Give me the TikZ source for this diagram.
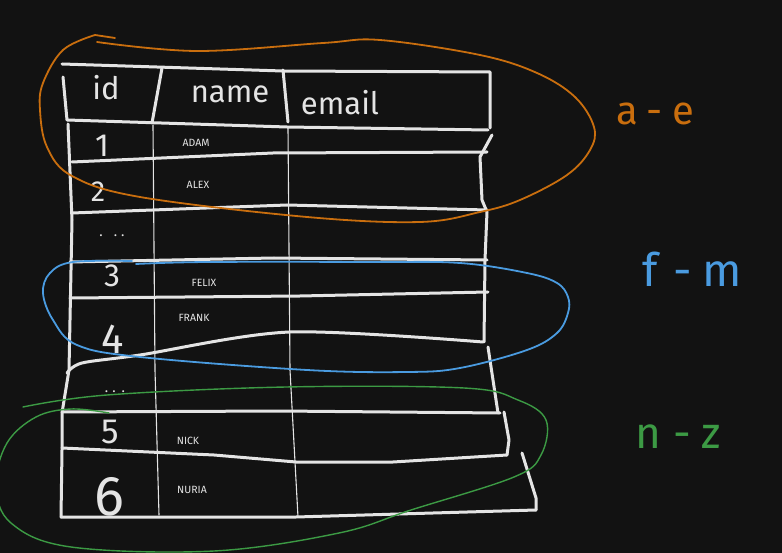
\documentclass[tikz,border=0pt]{standalone}
\usepackage{fontspec}
\setmainfont{Fira Sans}

\definecolor{board}{HTML}{121212}
\definecolor{chalk}{HTML}{E4E4E4}
\definecolor{markerorange}{HTML}{C96E0E}
\definecolor{markerblue}{HTML}{4A9BE0}
\definecolor{markergreen}{HTML}{3C9A44}

\begin{document}
\begin{tikzpicture}[
        x=1pt, y=-1pt, % pixel grid, y downwards
        tableline/.style={draw=chalk, line width=3pt, line cap=round, line join=round},
        divider/.style={draw=chalk, line width=1.1pt, line cap=round},
        lasso/.style={line width=1.8pt, line cap=round, line join=round},
        heading/.style={text=chalk, anchor=base, font=\fontsize{31}{31}\selectfont},
        rowid/.style={text=chalk, anchor=base, font=\fontsize{32}{32}\selectfont},
        person/.style={text=chalk, anchor=base, font=\fontsize{10.5}{10.5}\selectfont},
        skipdots/.style={text=chalk, anchor=base, font=\fontsize{14}{14}\selectfont},
        rangelabel/.style={anchor=base, font=\fontsize{40}{40}\selectfont}
    ]
        \useasboundingbox (0,0) rectangle (782,553);
        \fill[board] (0,0) rectangle (782,553);
        \clip (0,0) rectangle (782,553);

        % Header box
        \draw[tableline] (62,64) -- (283,71) -- (490,72) -- (490,128);
        \draw[tableline] (63,77) -- (67,120) -- (287,127) -- (488,130);
        \draw[tableline] (162,68) -- (152,123);
        \draw[tableline] (283,70) -- (288,122);

        % Outer edges of the rows
        \draw[tableline] (68,124) -- (72,220) -- (69,370) -- (62,413) -- (62,450) -- (61,517);
        \draw[tableline] (492,135) -- (480,157) -- (482,200) -- (487,212) -- (485,260) -- (484,342);
        \draw[tableline] (488,347) -- (493,380) -- (498,413);
        \draw[tableline] (504,412) -- (509,440) -- (507,455);
        \draw[tableline] (522,453) -- (536,498) -- (536,510);

        % Row lines
        \draw[tableline] (72,162) -- (273,153) -- (487,152);
        \draw[tableline] (72,213) -- (287,205) -- (487,210);
        \draw[tableline] (70,262) -- (274,258) -- (487,260);
        \draw[tableline] (70,298) -- (300,296) -- (488,292);
        \draw[tableline] plot[smooth, tension=0.5] coordinates {(67,373) (82,363) (140,355) (290,332) (483,342)};
        \draw[tableline] (62,412) -- (280,411) -- (500,413);
        \draw[tableline] (62,448) -- (214,455) -- (296,462) -- (393,462) -- (507,455);
        \draw[tableline] (61,517) -- (296,517) -- (536,510);

        % Column lines
        \draw[divider] (153,125) -- (155,370) -- (159,515);
        \draw[divider] (288,128) -- (290,370) -- (298,517);

        % Header texts
        \node[heading] (hid) at (106,100) {id};
        \node[heading] (hname) at (230,103) {name};
        \node[heading] (hemail) at (340,115) {email};

        % Ids
        \node[rowid] (id1) at (102,157) {1};
        \node[rowid, font=\fontsize{29}{29}\selectfont] (id2) at (98,202) {2};
        \node[skipdots] (dotsa) at (112,237) {.\hspace{11pt}.\hspace{4pt}.};
        \node[rowid] (id3) at (112,287) {3};
        \node[rowid, font=\fontsize{42}{42}\selectfont] (id4) at (113,353) {4};
        \node[skipdots] (dotsb) at (115,392) {.\hspace{4pt}.\hspace{6pt}.};
        \node[rowid, font=\fontsize{35}{35}\selectfont] (id5) at (110,443) {5};
        \node[rowid, font=\fontsize{56}{56}\selectfont] (id6) at (109,515) {6};

        % Names
        \node[person] (adam) at (196,147) {ADAM};
        \node[person] (alex) at (198,189) {ALEX};
        \node[person] (felix) at (204,287) {FELIX};
        \node[person] (frank) at (194,322) {FRANK};
        \node[person] (nick) at (188,444) {NICK};
        \node[person] (nuria) at (192,493) {NURIA};

        % Loops round the shards
        \draw[lasso, markerorange] plot[smooth, tension=0.6] coordinates {(97,42) (197,51) (323,43) (380,40) (480,55) (537,73) (575,97) (594,127) (590,150) (567,175) (520,200) (480,212) (420,222) (307,217) (140,197) (72,176) (47,147) (40,110) (43,83) (63,50) (95,35)} -- (115,38);
        \draw[lasso, markerblue] plot[smooth, tension=0.6] coordinates {(136,264) (207,262) (373,262) (460,263) (527,273) (557,283) (568,297) (568,313) (557,333) (527,350) (460,368) (407,372) (307,370) (140,357) (77,345) (53,320) (43,293) (50,273) (73,262) (132,261)};
        \draw[lasso, line width=1.4pt, markergreen] plot[smooth, tension=0.6] coordinates {(23,407) (107,395) (286,387) (464,388) (518,400) (546,420) (541,455) (514,477) (411,510) (339,533) (214,551) (71,547) (11,523) (-4,485) (7,443) (36,417) (71,409) (109,413)};

        % Range labels
        \node[rangelabel, markerorange] (rangeae) at (655,125) {a\hspace{9pt}-\hspace{9pt}e};
        \node[rangelabel, markerblue, font=\fontsize{46}{46}\selectfont] (rangefm) at (692,287) {f\hspace{16pt}-\hspace{10pt}m};
        \node[rangelabel, markergreen, font=\fontsize{44}{44}\selectfont] (rangenz) at (678,448) {n\hspace{12pt}-\hspace{10pt}z};
\end{tikzpicture}
\end{document}
